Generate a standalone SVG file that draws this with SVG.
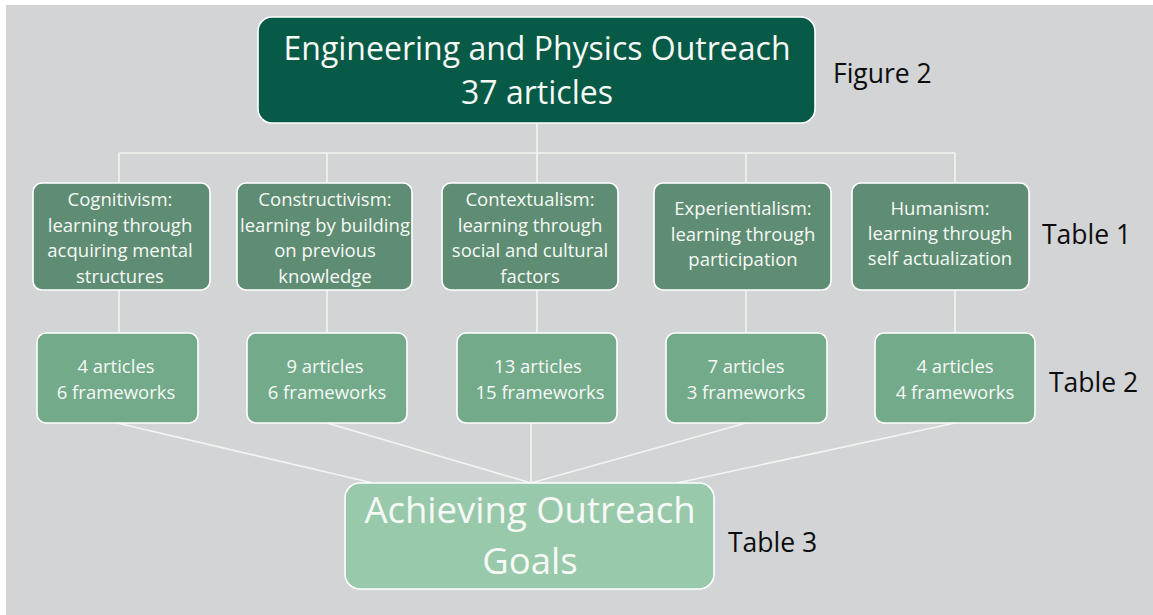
<svg xmlns="http://www.w3.org/2000/svg" width="1153" height="615" viewBox="0 0 1153 615">
  <style>
    .conn { stroke: #f4f4f2; stroke-width: 1.6; fill: none; }
    .box { stroke: #ffffff; stroke-width: 1.6; }
    .top { fill: #065a46; }
    .theory { fill: #5e8d73; }
    .count { fill: #72aa8a; }
    .goal { fill: #99c9ab; }
    .t { font-family: "Open Sans", "Noto Sans", sans-serif; fill: #f6f9f6; text-anchor: middle; }
    .t18 { font-size: 18.5px; }
    .lbl { font-family: "Open Sans", "Noto Sans", sans-serif; font-size: 26.5px; fill: #0d0d0d; }
  </style>

  <!-- canvas -->
  <rect x="0" y="0" width="1153" height="615" fill="#ffffff"/>
  <rect x="6" y="5" width="1147" height="610" fill="#d3d4d6"/>

  <!-- connectors -->
  <g id="connectors" class="conn">
    <line x1="537" y1="123" x2="537" y2="153"/>
    <line x1="119" y1="153" x2="955" y2="153"/>
    <line x1="119" y1="153" x2="119" y2="183"/>
    <line x1="327" y1="153" x2="327" y2="183"/>
    <line x1="537" y1="153" x2="537" y2="183"/>
    <line x1="746" y1="153" x2="746" y2="183"/>
    <line x1="955" y1="153" x2="955" y2="183"/>
    <line x1="119" y1="290" x2="119" y2="333"/>
    <line x1="327" y1="290" x2="327" y2="333"/>
    <line x1="537" y1="290" x2="537" y2="333"/>
    <line x1="746" y1="290" x2="746" y2="333"/>
    <line x1="955" y1="290" x2="955" y2="333"/>
    <line x1="117" y1="423" x2="373" y2="483"/>
    <line x1="327" y1="423" x2="531" y2="483"/>
    <line x1="531" y1="423" x2="531" y2="483"/>
    <line x1="746" y1="423" x2="531" y2="483"/>
    <line x1="955" y1="423" x2="677" y2="483"/>
  </g>

  <!-- root -->
  <g id="outreach">
    <rect class="box top" x="258" y="17" width="557" height="106" rx="14"/>
    <text class="t" font-size="32" x="537" y="60">Engineering and Physics Outreach</text>
    <text class="t" font-size="32" x="537" y="104">37 articles</text>
  </g>

  <!-- learning theories -->
  <g id="cognitivism">
    <rect class="box theory" x="33" y="183" width="177" height="107" rx="9"/>
    <text class="t t18" x="120" y="206">Cognitivism:</text>
    <text class="t t18" x="120" y="232">learning through</text>
    <text class="t t18" x="120" y="257">acquiring mental</text>
    <text class="t t18" x="120" y="283">structures</text>
  </g>
  <g id="constructivism">
    <rect class="box theory" x="237" y="183" width="175" height="107" rx="9"/>
    <text class="t t18" x="325" y="206">Constructivism:</text>
    <text class="t t18" x="325" y="232">learning by building</text>
    <text class="t t18" x="325" y="257">on previous</text>
    <text class="t t18" x="325" y="283">knowledge</text>
  </g>
  <g id="contextualism">
    <rect class="box theory" x="442" y="183" width="176" height="107" rx="9"/>
    <text class="t t18" x="530" y="206">Contextualism:</text>
    <text class="t t18" x="530" y="232">learning through</text>
    <text class="t t18" x="530" y="257">social and cultural</text>
    <text class="t t18" x="530" y="283">factors</text>
  </g>
  <g id="experientialism">
    <rect class="box theory" x="654" y="183" width="177" height="107" rx="9"/>
    <text class="t t18" x="743" y="215">Experientialism:</text>
    <text class="t t18" x="743" y="241">learning through</text>
    <text class="t t18" x="743" y="266">participation</text>
  </g>
  <g id="humanism">
    <rect class="box theory" x="852" y="183" width="177" height="107" rx="9"/>
    <text class="t t18" x="940" y="215">Humanism:</text>
    <text class="t t18" x="940" y="240">learning through</text>
    <text class="t t18" x="940" y="265">self actualization</text>
  </g>

  <!-- article / framework counts -->
  <g id="count-cognitivism">
    <rect class="box count" x="37" y="333" width="161" height="90" rx="9"/>
    <text class="t t18" x="116" y="373">4 articles</text>
    <text class="t t18" x="116" y="399">6 frameworks</text>
  </g>
  <g id="count-constructivism">
    <rect class="box count" x="247" y="333" width="160" height="90" rx="9"/>
    <text class="t t18" x="325" y="373">9 articles</text>
    <text class="t t18" x="327" y="399">6 frameworks</text>
  </g>
  <g id="count-contextualism">
    <rect class="box count" x="457" y="333" width="160" height="90" rx="9"/>
    <text class="t t18" x="538" y="373">13 articles</text>
    <text class="t t18" x="540" y="399">15 frameworks</text>
  </g>
  <g id="count-experientialism">
    <rect class="box count" x="666" y="333" width="161" height="90" rx="9"/>
    <text class="t t18" x="746" y="373">7 articles</text>
    <text class="t t18" x="746" y="399">3 frameworks</text>
  </g>
  <g id="count-humanism">
    <rect class="box count" x="875" y="333" width="160" height="90" rx="9"/>
    <text class="t t18" x="955" y="373">4 articles</text>
    <text class="t t18" x="955" y="399">4 frameworks</text>
  </g>

  <!-- outcome -->
  <g id="goals">
    <rect class="box goal" x="345" y="483" width="369" height="106" rx="15"/>
    <text class="t" font-size="36.5" x="530" y="523">Achieving Outreach</text>
    <text class="t" font-size="36.5" x="530" y="574">Goals</text>
  </g>

  <!-- side labels -->
  <g id="labels">
    <text class="lbl" x="833" y="83">Figure 2</text>
    <text class="lbl" x="1042" y="244">Table 1</text>
    <text class="lbl" x="1049" y="392">Table 2</text>
    <text class="lbl" x="728" y="552">Table 3</text>
  </g>
</svg>
